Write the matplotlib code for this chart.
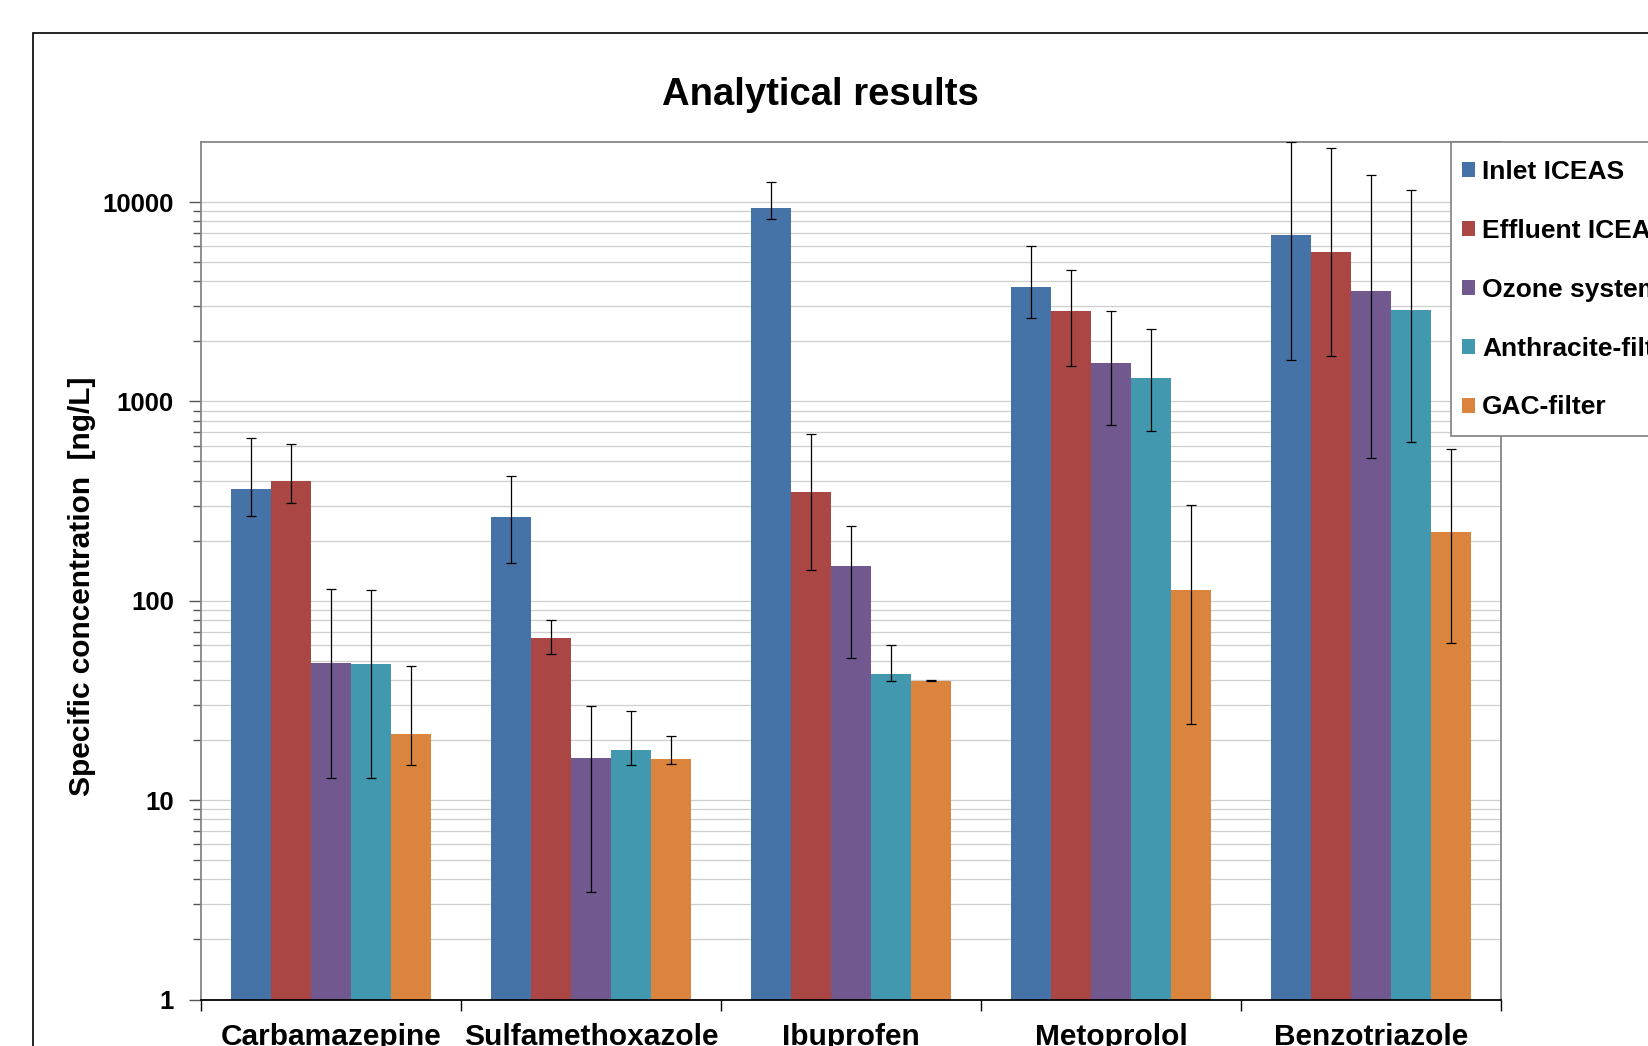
import numpy as np
import matplotlib
matplotlib.use("Agg")
import matplotlib.pyplot as plt
from matplotlib.patches import Rectangle
from matplotlib.ticker import FixedLocator, NullFormatter

plt.rcParams["font.family"] = ["Liberation Sans", "DejaVu Sans"]
plt.rcParams["font.weight"] = "bold"

# data
categories = ["Carbamazepine", "Sulfamethoxazole", "Ibuprofen", "Metoprolol", "Benzotriazole"]
series = ["Inlet ICEAS", "Effluent ICEAS", "Ozone system", "Anthracite-filter", "GAC-filter"]
colors = ["#4572A7", "#AA4643", "#71588F", "#4198AF", "#DB843D"]

inlet = [363, 264, 9310, 3760, 6810]
inlet_lo = [267, 155, 8260, 2610, 1606]
inlet_hi = [657, 424, 12560, 6035, 19950]

effluent = [399, 65.4, 352, 2836, 5620]
effluent_lo = [310, 54.1, 142, 1506, 1690]
effluent_hi = [610, 79.8, 683, 4550, 18700]

ozone = [48.9, 16.3, 150, 1565, 3570]
ozone_lo = [12.9, 3.48, 51.7, 764, 521]
ozone_hi = [115, 29.8, 236, 2836, 13600]

anthracite = [48.2, 17.8, 42.9, 1308, 2870]
anthracite_lo = [12.9, 15.0, 39.8, 713, 623]
anthracite_hi = [113, 27.9, 60.1, 2312, 11500]

gac = [21.4, 16.0, 39.8, 113, 220]
gac_lo = [15.0, 15.2, 39.6, 24.0, 61.1]
gac_hi = [47, 20.9, 40.0, 303, 577]

values = [inlet, effluent, ozone, anthracite, gac]
lows = [inlet_lo, effluent_lo, ozone_lo, anthracite_lo, gac_lo]
highs = [inlet_hi, effluent_hi, ozone_hi, anthracite_hi, gac_hi]

W, H = 1648, 1046
fig = plt.figure(figsize=(W / 100, H / 100), dpi=100)
ax = fig.add_axes([201 / W, 46.5 / H, 1300 / W, 857.5 / H])
ax.set_yscale("log")

x = np.arange(len(categories))
w = 1 / 6.5
handles = []
for i, (name, vals, lo, hi, c) in enumerate(zip(series, values, lows, highs, colors)):
    vals = np.array(vals)
    pos = x + (i - 2) * w
    b = ax.bar(pos, vals, width=w, color=c, label=name, zorder=2)
    handles.append(b)
    err = [vals - np.array(lo), np.array(hi) - vals]
    ax.errorbar(pos, vals, yerr=err, fmt="none", ecolor="black", elinewidth=0.9,
                capsize=3.6, capthick=0.9, zorder=3)

ax.set_xlim(-0.5, 4.5)
ax.set_ylim(1, 20000)
ax.set_axisbelow(True)

# y axis
ax.yaxis.set_major_locator(FixedLocator([1, 10, 100, 1000, 10000]))
ax.set_yticklabels(["1", "10", "100", "1000", "10000"])
minors = [m * 10 ** d for d in range(5) for m in range(2, 10) if m * 10 ** d < 20000]
ax.yaxis.set_minor_locator(FixedLocator(minors))
ax.yaxis.set_minor_formatter(NullFormatter())
ax.tick_params(axis="y", which="major", length=8.5, width=1, color="#555555",
               labelsize=18.5, pad=11)
ax.tick_params(axis="y", which="minor", length=6, width=1, color="#555555")
ax.grid(True, which="both", axis="y", color="#cfcfcf", linewidth=0.9)

# x axis: ticks at boundaries, labels centred
ax.set_xticks(np.arange(-0.5, 5, 1))
ax.set_xticklabels([])
ax.set_xticks(x, minor=True)
ax.set_xticklabels(categories, minor=True)
ax.tick_params(axis="x", which="major", length=8, width=1, color="black")
ax.tick_params(axis="x", which="minor", length=0, labelsize=21.5, pad=17)

for s in ["left", "top", "right"]:
    ax.spines[s].set_color("#868686")
    ax.spines[s].set_linewidth(1.3)
ax.spines["bottom"].set_color("black")
ax.spines["bottom"].set_linewidth(1.3)

# chart area border (runs off the right and bottom edges)
fig.patches.append(Rectangle((33 / W, -0.1), 1.2, 1.1 - 33 / H, fill=False,
                             edgecolor="black", linewidth=1.2, transform=fig.transFigure))

fig.text(820 / W, 1 - 95 / H, "Analytical results", ha="center", va="center",
         fontsize=27.5, fontweight="bold")
fig.text(82.5 / W, 1 - 586 / H, "Specific concentration  [ng/L]", ha="center", va="center",
         rotation=90, fontsize=21.5, fontweight="bold")

# legend box, cut off by the right edge like the reference
fig.patches.append(Rectangle((1451 / W, 1 - 436 / H), 0.2, 294 / H, facecolor="white",
                             edgecolor="#808080", linewidth=1.2, zorder=4,
                             transform=fig.transFigure))
fig.legend(handles, series, loc="upper left", bbox_to_anchor=(1451 / W, 1 - 149 / H),
           bbox_transform=fig.transFigure, fontsize=19, frameon=False,
           handlelength=0.5, handleheight=0.5, handletextpad=0.25,
           labelspacing=1.32, borderpad=0.42, borderaxespad=0)

fig.savefig("out.png", dpi=100)
